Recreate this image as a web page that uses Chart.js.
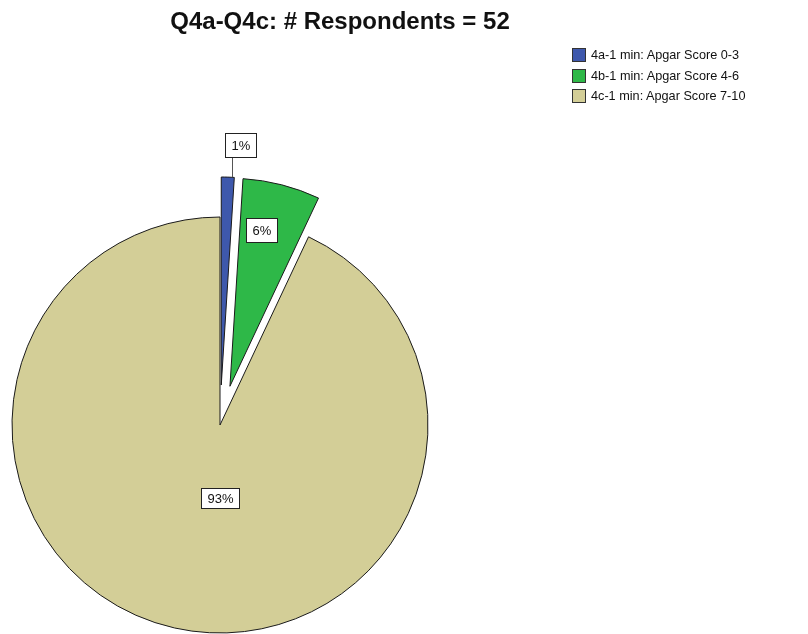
<!DOCTYPE html>
<html>
<head>
<meta charset="utf-8">
<script src="https://cdn.jsdelivr.net/npm/chart.js@4/dist/chart.umd.min.js"></script>
<style>
html, body { margin: 0; padding: 0; background: #fff; }
#wrap { position: relative; width: 808px; height: 634px; overflow: hidden; font-family: "Liberation Sans", Arial, sans-serif; }
#chart { position: absolute; left: 0; top: 0; }
#title { position: absolute; left: 0; top: 9px; width: 680px; text-align: center; font-weight: bold; font-size: 24px; line-height: 24px; color: #111; }
#legend { position: absolute; left: 572px; top: 45px; font-size: 12.7px; color: #111; }
.item { display: flex; align-items: center; height: 20.5px; white-space: nowrap; }
.swatch { width: 14px; height: 14px; box-sizing: border-box; border: 1px solid #333; margin-right: 5px; }
</style>
</head>
<body>
<div id="wrap">
  <canvas id="chart" width="808" height="634"></canvas>
  <div id="title">Q4a-Q4c: # Respondents = 52</div>
  <div id="legend"></div>
</div>
<script>
// data
const categories = ["4a-1 min: Apgar Score 0-3", "4b-1 min: Apgar Score 4-6", "4c-1 min: Apgar Score 7-10"];
const percentages = [1, 6, 93];

// look
const sliceColors = ["#3E58AC", "#2EB848", "#D3CE97"];
const explode = [40, 40, 0];   // px pulled out along the slice middle
// label placement: fraction of radius, optional angle (deg clockwise from top), outside = leader line
const labelRadius = [1, 0.767, 0.35];
const labelAngle = [null, 11.5, 180];
const labelOutside = [true, false, false];

// legend in html
const legendEl = document.getElementById("legend");
categories.forEach((name, i) => {
    const row = document.createElement("div");
    row.className = "item";
    const sw = document.createElement("span");
    sw.className = "swatch";
    sw.style.background = sliceColors[i];
    row.appendChild(sw);
    row.appendChild(document.createTextNode(name));
    legendEl.appendChild(row);
});

// chart.js offset also grows the radius, so move the arcs ourselves
const explodeSlices = {
    id: "explodeSlices",
    afterDatasetsUpdate(chart) {
        chart.getDatasetMeta(0).data.forEach((arc, i) => {
            const mid = (arc.startAngle + arc.endAngle) / 2;
            arc.x += Math.cos(mid) * explode[i];
            arc.y += Math.sin(mid) * explode[i];
        });
    }
};

// boxed % labels like the spss output
const sliceLabels = {
    id: "sliceLabels",
    afterDatasetsDraw(chart) {
        const ctx = chart.ctx;
        const meta = chart.getDatasetMeta(0);
        ctx.save();
        ctx.font = '13px "Liberation Sans", Arial, sans-serif';
        ctx.textAlign = "center";
        ctx.textBaseline = "middle";
        meta.data.forEach((arc, i) => {
            const mid = (arc.startAngle + arc.endAngle) / 2;
            const ang = labelAngle[i] === null ? mid : (labelAngle[i] - 90) * Math.PI / 180;
            const text = percentages[i] + "%";
            const w = Math.round(ctx.measureText(text).width) + 12;
            const h = i === 2 ? 20 : 24;
            let lx = arc.x + Math.cos(ang) * arc.outerRadius * labelRadius[i];
            let ly = arc.y + Math.sin(ang) * arc.outerRadius * labelRadius[i];
            if (labelOutside[i]) {
                const tx = Math.round(lx + 4) + 0.5;
                ctx.strokeStyle = "#555";
                ctx.lineWidth = 1;
                ctx.beginPath();
                ctx.moveTo(tx, ly);
                ctx.lineTo(tx, ly - 20);
                ctx.stroke();
                ly = ly - 20 - h / 2;
                lx = tx + 8;
            }
            const bx = Math.round(lx - w / 2) + 0.5;
            const by = Math.round(ly - h / 2) + 0.5;
            ctx.fillStyle = "#fff";
            ctx.fillRect(bx, by, w, h);
            ctx.strokeStyle = "#222";
            ctx.lineWidth = 1;
            ctx.strokeRect(bx, by, w, h);
            ctx.fillStyle = "#111";
            ctx.fillText(text, bx + w / 2, by + h / 2 + 1);
        });
        ctx.restore();
    }
};

const chart = new Chart(document.getElementById("chart"), {
    type: "pie",
    data: {
        labels: categories,
        datasets: [{
            data: percentages,
            backgroundColor: sliceColors,
            borderColor: "#1a1a1a",
            borderWidth: 1,
            borderJoinStyle: "miter",
            radius: 208
        }]
    },
    options: {
        responsive: false,
        animation: false,
        layout: { padding: { left: 0, right: 368, top: 216, bottom: 0 } },
        plugins: {
            legend: { display: false },
            title: { display: false },
            tooltip: { enabled: false }
        }
    },
    plugins: [explodeSlices, sliceLabels]
});
</script>
</body>
</html>
